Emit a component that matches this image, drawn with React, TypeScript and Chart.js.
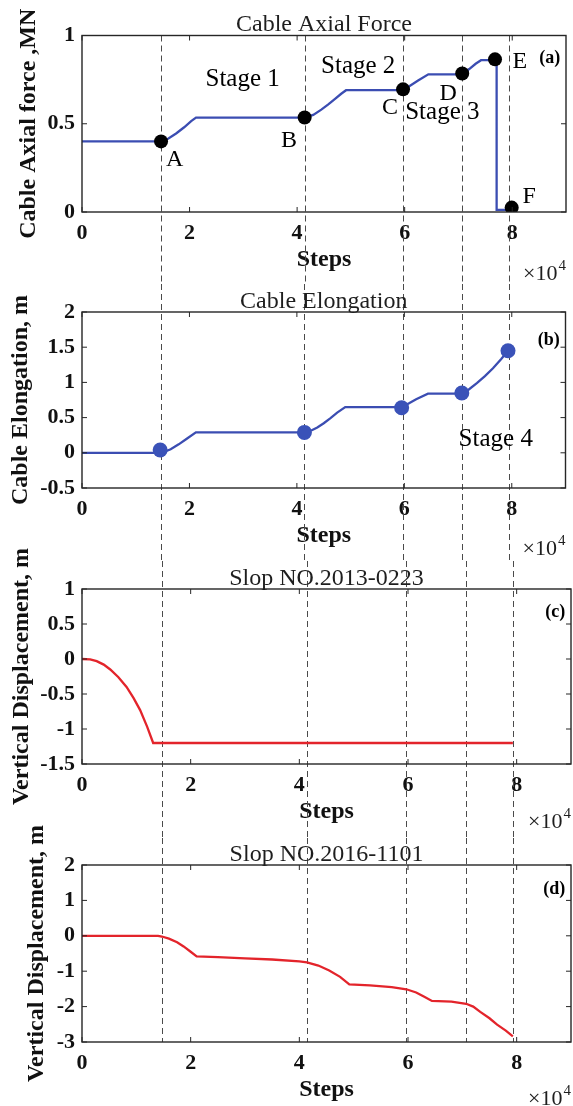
import React, { useEffect, useRef } from "react";
import { Chart, registerables } from "chart.js";

Chart.register(...registerables);

// ---------------- data ----------------
const xTickSteps = [0, 20000, 40000, 60000, 80000];
const stageSteps = [14700, 41400, 59700, 70700, 79400];

// (a) Cable axial force, MN
const forceSteps = [0, 14700, 16000, 17500, 19000, 20300, 21200, 41400, 43000, 44500, 45800, 47000, 48200, 49100, 59700, 61000, 62500, 64400, 70700, 72000, 73200, 74200, 77100, 77100, 79400];
const forceValues = [0.4, 0.4, 0.415, 0.445, 0.48, 0.515, 0.535, 0.535, 0.55, 0.58, 0.61, 0.64, 0.67, 0.69, 0.69, 0.715, 0.745, 0.78, 0.78, 0.81, 0.84, 0.86, 0.86, 0.012, 0.012];
const forcePointSteps = [14700, 41400, 59700, 70700, 76800, 79900];
const forcePointValues = [0.4, 0.535, 0.695, 0.785, 0.865, 0.025];
const forceYTicks = [0, 0.5, 1];

// (b) Cable elongation, m
const elongSteps = [0, 14000, 15200, 16500, 18000, 19500, 21200, 41400, 42500, 43800, 45000, 46200, 47500, 49000, 59500, 60800, 62200, 64400, 70700, 72000, 73500, 75000, 76500, 78000, 79300];
const elongValues = [0, 0, 0.01, 0.05, 0.12, 0.2, 0.29, 0.29, 0.31, 0.36, 0.42, 0.49, 0.57, 0.65, 0.65, 0.7, 0.76, 0.84, 0.84, 0.9, 0.99, 1.09, 1.2, 1.33, 1.45];
const elongPointSteps = [14550, 41400, 59500, 70700, 79300];
const elongPointValues = [0.04, 0.29, 0.64, 0.85, 1.45];
const elongYTicks = [-0.5, 0, 0.5, 1, 1.5, 2];

// (c) Slope NO.2013-0223 vertical displacement, m
const slopeASteps = [0, 1500, 2700, 4000, 5200, 6700, 8200, 9500, 10700, 12000, 13100, 79300];
const slopeAValues = [0, -0.005, -0.03, -0.08, -0.15, -0.26, -0.4, -0.56, -0.73, -0.97, -1.2, -1.2];
const slopeAYTicks = [-1.5, -1, -0.5, 0, 0.5, 1];

// (d) Slope NO.2016-1101 vertical displacement, m
const slopeBSteps = [0, 14000, 14700, 16000, 17500, 18700, 20000, 21100, 25000, 30000, 35000, 40000, 41400, 43500, 45500, 47500, 49200, 53000, 57000, 59700, 61500, 63000, 64400, 68000, 70700, 72000, 73300, 75000, 76400, 78000, 79300];
const slopeBValues = [0, 0, -0.02, -0.08, -0.18, -0.3, -0.45, -0.58, -0.6, -0.64, -0.67, -0.72, -0.75, -0.84, -0.98, -1.16, -1.37, -1.4, -1.45, -1.51, -1.6, -1.72, -1.84, -1.86, -1.92, -2.0, -2.15, -2.33, -2.51, -2.68, -2.84];
const slopeBYTicks = [-3, -2, -1, 0, 1, 2];

// text annotations (data coordinates: steps, value)
const forceNotes = [
  { text: "Stage 1", x: 22960, y: 0.714, kind: "stage" },
  { text: "Stage 2", x: 44450, y: 0.789, kind: "stage" },
  { text: "Stage 3", x: 60100, y: 0.528, kind: "stage" },
  { text: "A", x: 15600, y: 0.26, kind: "letter" },
  { text: "B", x: 37000, y: 0.368, kind: "letter" },
  { text: "C", x: 55800, y: 0.553, kind: "letter" },
  { text: "D", x: 66500, y: 0.635, kind: "letter" },
  { text: "E", x: 80050, y: 0.814, kind: "letter" },
  { text: "F", x: 81900, y: 0.053, kind: "letter" },
  { text: "(a)", x: 88950, y: 0.846, kind: "tag" },
];
const elongNotes = [
  { text: "Stage 4", x: 70100, y: 0.1, kind: "stage" },
  { text: "(b)", x: 88950, y: 1.53, kind: "tag" },
];
const slopeANotes = [{ text: "(c)", x: 88950, y: 0.6, kind: "tag" }];
const slopeBNotes = [{ text: "(d)", x: 88950, y: 1.19, kind: "tag" }];

// ---------------- styling ----------------
const SERIF = '"Liberation Serif", "Times New Roman", serif';
const BLUE = "#3b4db2";
const RED = "#e3242b";
const PAGE_H = 1106;

type Note = { text: string; x: number; y: number; kind: string };
type PanelSpec = {
  bandTop: number;
  bandBottom: number;
  areaTop: number;
  areaBottom: number;
  multOffset: number;
  title: string;
  yTitle: string;
  yTitlePad: number;
  yMin: number;
  yMax: number;
  yTicks: number[];
  lineX: number[];
  lineY: number[];
  color: string;
  markX?: number[];
  markY?: number[];
  markColor?: string;
  markR?: number;
  notes: Note[];
  dashFrom: "area" | "band";
  dashTo: "area" | "band";
};

const panels: PanelSpec[] = [
  {
    bandTop: 0, bandBottom: 284, areaTop: 35.5, areaBottom: 212, multOffset: 68,
    title: "Cable Axial Force", yTitle: "Cable Axial force ,MN", yTitlePad: 16.6,
    yMin: 0, yMax: 1, yTicks: forceYTicks,
    lineX: forceSteps, lineY: forceValues, color: BLUE,
    markX: forcePointSteps, markY: forcePointValues, markColor: "#000000", markR: 7,
    notes: forceNotes, dashFrom: "area", dashTo: "band",
  },
  {
    bandTop: 284, bandBottom: 561, areaTop: 312, areaBottom: 488, multOffset: 67,
    title: "Cable Elongation", yTitle: "Cable Elongation, m", yTitlePad: 8.5,
    yMin: -0.5, yMax: 2, yTicks: elongYTicks,
    lineX: elongSteps, lineY: elongValues, color: BLUE,
    markX: elongPointSteps, markY: elongPointValues, markColor: "#3a52b8", markR: 7.5,
    notes: elongNotes, dashFrom: "band", dashTo: "band",
  },
  {
    bandTop: 561, bandBottom: 838, areaTop: 589, areaBottom: 764, multOffset: 64,
    title: "Slop NO.2013-0223", yTitle: "Vertical Displacement, m", yTitlePad: 9.9,
    yMin: -1.5, yMax: 1, yTicks: slopeAYTicks,
    lineX: slopeASteps, lineY: slopeAValues, color: RED,
    notes: slopeANotes, dashFrom: "band", dashTo: "band",
  },
  {
    bandTop: 838, bandBottom: 1106, areaTop: 865, areaBottom: 1042, multOffset: 63,
    title: "Slop NO.2016-1101", yTitle: "Vertical Displacement, m", yTitlePad: 24.9,
    yMin: -3, yMax: 2, yTicks: slopeBYTicks,
    lineX: slopeBSteps, lineY: slopeBValues, color: RED,
    notes: slopeBNotes, dashFrom: "band", dashTo: "area",
  },
];

function makeDecor(p: PanelSpec) {
  return {
    id: "panelDecor",
    beforeDatasetsDraw(chart: any) {
      const { ctx, chartArea: a, scales } = chart;
      const xs = scales.x;
      const top = p.dashFrom === "area" ? a.top : p.bandTop;
      const bottom = p.dashTo === "area" ? a.bottom : p.bandBottom;
      ctx.save();
      ctx.strokeStyle = "#4a4a4a";
      ctx.lineWidth = 1;
      ctx.setLineDash([6, 4]);
      for (const s of stageSteps) {
        const px = Math.round(xs.getPixelForValue(s)) + 0.5;
        ctx.beginPath();
        ctx.moveTo(px, top);
        ctx.lineTo(px, bottom);
        ctx.stroke();
      }
      ctx.restore();
    },
    afterDraw(chart: any) {
      const { ctx, chartArea: a, scales } = chart;
      const xs = scales.x;
      const ys = scales.y;
      ctx.save();
      ctx.setLineDash([]);
      // box
      ctx.strokeStyle = "#262626";
      ctx.lineWidth = 1.4;
      ctx.strokeRect(a.left, a.top, a.right - a.left, a.bottom - a.top);
      // inward ticks
      const tl = 5;
      ctx.lineWidth = 1;
      ctx.beginPath();
      for (const v of xTickSteps) {
        const px = xs.getPixelForValue(v);
        ctx.moveTo(px, a.bottom);
        ctx.lineTo(px, a.bottom - tl);
        ctx.moveTo(px, a.top);
        ctx.lineTo(px, a.top + tl);
      }
      for (const v of p.yTicks) {
        const py = ys.getPixelForValue(v);
        ctx.moveTo(a.left, py);
        ctx.lineTo(a.left + tl, py);
        ctx.moveTo(a.right, py);
        ctx.lineTo(a.right - tl, py);
      }
      ctx.stroke();
      // title
      ctx.fillStyle = "#1e1e1e";
      ctx.font = `24px ${SERIF}`;
      ctx.textAlign = "center";
      ctx.textBaseline = "alphabetic";
      ctx.fillText(p.title, (a.left + a.right) / 2, a.top - 4.5);
      // annotations
      for (const n of p.notes) {
        if (n.kind === "tag") {
          ctx.font = `bold 18px ${SERIF}`;
          ctx.textAlign = "right";
        } else if (n.kind === "stage") {
          ctx.font = `25px ${SERIF}`;
          ctx.textAlign = "left";
        } else {
          ctx.font = `24px ${SERIF}`;
          ctx.textAlign = "left";
        }
        ctx.fillStyle = "#000";
        ctx.fillText(n.text, xs.getPixelForValue(n.x), ys.getPixelForValue(n.y));
      }
      // x10^4 multiplier
      ctx.fillStyle = "#1e1e1e";
      ctx.font = `22px ${SERIF}`;
      ctx.textAlign = "left";
      const bx = a.right - 43;
      const by = a.bottom + p.multOffset;
      ctx.fillText("×10", bx, by);
      const w = ctx.measureText("×10").width;
      ctx.font = `15px ${SERIF}`;
      ctx.fillText("4", bx + w + 1, by - 10);
      ctx.restore();
    },
  };
}

function buildConfig(p: PanelSpec): any {
  const datasets: any[] = [
    {
      data: p.lineX.map((x, i) => ({ x, y: p.lineY[i] })),
      showLine: true,
      borderColor: p.color,
      backgroundColor: p.color,
      borderWidth: 2.3,
      pointRadius: 0,
      pointHoverRadius: 0,
      tension: 0,
      fill: false,
      order: 2,
    },
  ];
  if (p.markX && p.markY) {
    datasets.push({
      data: p.markX.map((x, i) => ({ x, y: p.markY![i] })),
      showLine: false,
      pointRadius: p.markR,
      pointHoverRadius: p.markR,
      backgroundColor: p.markColor,
      borderColor: p.markColor,
      borderWidth: 0,
      order: 1,
    });
  }
  const tickFont = { family: SERIF, size: 22, weight: "bold" as const, lineHeight: 1.2 };
  const titleFont = { family: SERIF, size: 24, weight: "bold" as const, lineHeight: 1 };
  const xHeight = p.bandBottom - p.areaBottom;
  return {
    type: "scatter",
    data: { datasets },
    options: {
      responsive: false,
      maintainAspectRatio: false,
      animation: false,
      devicePixelRatio: 1,
      events: [],
      layout: { padding: { top: p.areaTop, right: 2, left: 0, bottom: PAGE_H - p.bandBottom } },
      plugins: {
        legend: { display: false },
        tooltip: { enabled: false },
        title: { display: false },
      },
      scales: {
        x: {
          type: "linear",
          min: 0,
          max: 90000,
          grid: { display: false, drawTicks: false },
          border: { display: false },
          afterBuildTicks: (s: any) => {
            s.ticks = xTickSteps.map((v) => ({ value: v }));
          },
          afterFit: (s: any) => {
            s.height = xHeight;
          },
          ticks: {
            padding: 8,
            color: "#111",
            font: tickFont,
            autoSkip: false,
            maxRotation: 0,
            callback: (v: any) => String(Number(v) / 10000),
          },
          title: {
            display: true,
            text: "Steps",
            color: "#111",
            font: titleFont,
            padding: { top: 0, bottom: xHeight - 48 - 12 },
          },
        },
        y: {
          type: "linear",
          min: p.yMin,
          max: p.yMax,
          grid: { display: false, drawTicks: false },
          border: { display: false },
          afterBuildTicks: (s: any) => {
            s.ticks = p.yTicks.map((v) => ({ value: v }));
          },
          afterFit: (s: any) => {
            s.width = 82;
          },
          ticks: {
            padding: 7,
            color: "#111",
            font: tickFont,
            autoSkip: false,
            callback: (v: any) => String(v),
          },
          title: {
            display: true,
            text: p.yTitle,
            color: "#111",
            font: titleFont,
            padding: { top: p.yTitlePad, bottom: 0 },
          },
        },
      },
    },
    plugins: [makeDecor(p)],
  };
}

function Panel({ p }: { p: PanelSpec }) {
  const ref = useRef<HTMLCanvasElement>(null);
  useEffect(() => {
    if (!ref.current) return;
    const chart = new Chart(ref.current, buildConfig(p));
    return () => chart.destroy();
  }, [p]);
  return (
    <canvas
      ref={ref}
      width={573}
      height={PAGE_H}
      style={{ position: "absolute", left: 0, top: 0, width: 573, height: PAGE_H, display: "block" }}
    />
  );
}

export default function App() {
  return (
    <div style={{ position: "fixed", left: 0, top: 0, width: 573, height: PAGE_H, background: "#fff", overflow: "hidden" }}>
      {panels.map((p, i) => (
        <Panel key={i} p={p} />
      ))}
    </div>
  );
}
